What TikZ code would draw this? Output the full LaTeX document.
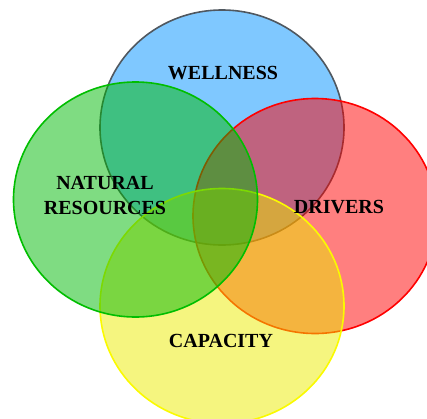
\documentclass[tikz,border=0pt]{standalone}
\usepackage{fontspec}
\setmainfont{Liberation Serif}
\usepackage{tikz}

\definecolor{wellblue}{RGB}{0,145,255}
\definecolor{wellline}{RGB}{80,88,96}
\definecolor{natgreen}{RGB}{0,185,5}
\definecolor{natline}{RGB}{0,190,0}
\definecolor{drvred}{RGB}{255,0,0}
\definecolor{capyellow}{RGB}{235,235,0}
\definecolor{capline}{RGB}{250,250,0}

\begin{document}
\begin{tikzpicture}[x=1pt,y=-1pt]
            \tikzstyle{area}=[line width=1.6pt,fill opacity=0.5]
            \tikzstyle{label}=[font=\bfseries\fontsize{20}{24.5}\selectfont,text=black,align=center,inner sep=0pt]
            \useasboundingbox (0,0) rectangle (427,418);
            \clip (0,0) rectangle (427,418);
            \draw[area,draw=wellline,fill=wellblue] (222,127.5) ellipse [x radius=122,y radius=117.5];
            \draw[area,draw=drvred,fill=drvred] (315,216) ellipse [x radius=122,y radius=117.5];
            \draw[area,draw=capline,fill=capyellow] (222,306) ellipse [x radius=122,y radius=117.5];
            \draw[area,draw=natline,fill=natgreen] (135.5,199.5) ellipse [x radius=122,y radius=117.5];
            \node[label] (wellness) at (223,73) {WELLNESS};
            \node[label] (natural) at (105,195.5) {NATURAL\\RESOURCES};
            \node[label] (drivers) at (339,207) {DRIVERS};
            \node[label] (capacity) at (221,341) {CAPACITY};
\end{tikzpicture}
\end{document}
